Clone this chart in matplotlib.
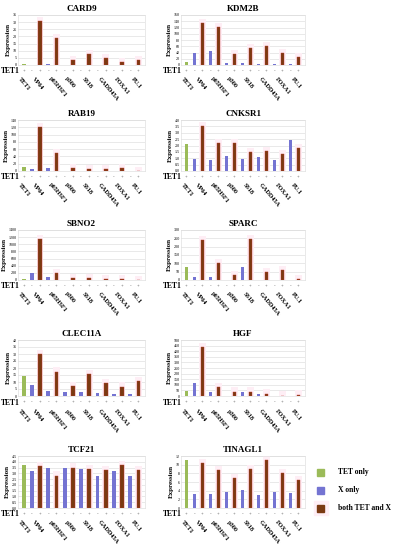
import numpy as np
import matplotlib
matplotlib.use("Agg")
import matplotlib.pyplot as plt
import matplotlib.transforms as mtransforms
from matplotlib.patches import Rectangle

plt.rcParams['font.family'] = ['Liberation Serif', 'DejaVu Serif']

factors = ['VP64', 'p65HSF1', 'p300', 'SS18', 'GADD45A', 'FOXA1', 'PU.1']

genes = ['CARD9', 'KDM2B', 'RAB19', 'CNKSR1', 'SBNO2',
         'SPARC', 'CLEC11A', 'HGF', 'TCF21', 'TINAGL1']

# TET only value, X only values, both TET and X values (per factor)
card9_tet = 1.0
card9_x = [0.3, 0.4, 0.3, 0.3, 0.3, 0.3, 0.3]
card9_both = [30.8, 19, 3.5, 7.7, 4.7, 2.3, 3.5]

kdm2b_tet = 10
kdm2b_x = [40, 45, 5, 5, 3, 4, 4]
kdm2b_both = [133, 122, 34, 54, 61, 37, 27]

rab19_tet = 12
rab19_x = [6, 8, 1, 1, 1, 1, 1]
rab19_both = [120, 50, 8, 5, 6, 7, 1]

cnksr1_tet = 2.1
cnksr1_x = [0.93, 0.83, 1.2, 0.96, 1.07, 0.88, 2.4]
cnksr1_both = [3.5, 2.2, 2.2, 1.47, 1.57, 1.36, 1.8]

sbno2_tet = 20
sbno2_x = [205, 75, 5, 5, 5, 5, 3]
sbno2_both = [1150, 190, 50, 55, 35, 20, 10]

sparc_tet = 80
sparc_x = [20, 16, 2, 80, 1, 1, 1]
sparc_both = [240, 100, 28, 246, 46, 60, 8]

clec11a_tet = 14.5
clec11a_x = [8, 3.7, 3, 3, 2.3, 1.6, 1.6]
clec11a_both = [30, 17.5, 7, 15.7, 9.2, 6.5, 10.4]

hgf_tet = 48
hgf_x = [120, 32, 3, 40, 15, 2, 2]
hgf_both = [435, 80, 38, 38, 22, 3, 10]

tcf21_tet = 3.72
tcf21_x = [3.2, 3.5, 3.44, 3.35, 2.78, 3.24, 2.8]
tcf21_both = [3.64, 2.8, 3.5, 3.35, 3.3, 3.72, 3.3]

tinagl1_tet = 11.1
tinagl1_x = [3.3, 3.3, 3.6, 4.2, 2.9, 3.8, 3.4]
tinagl1_both = [10.3, 8.8, 6.9, 9.0, 11.1, 8.1, 6.5]

# y axis max and step
y_max = [35, 160, 140, 4.0, 1400, 300, 40, 500, 4.5, 12]
y_step = [5, 20, 20, 0.5, 200, 50, 5, 50, 0.5, 2]

tet_vals = [card9_tet, kdm2b_tet, rab19_tet, cnksr1_tet, sbno2_tet,
            sparc_tet, clec11a_tet, hgf_tet, tcf21_tet, tinagl1_tet]
x_vals = [card9_x, kdm2b_x, rab19_x, cnksr1_x, sbno2_x,
          sparc_x, clec11a_x, hgf_x, tcf21_x, tinagl1_x]
both_vals = [card9_both, kdm2b_both, rab19_both, cnksr1_both, sbno2_both,
             sparc_both, clec11a_both, hgf_both, tcf21_both, tinagl1_both]

GREEN = '#9bbb59'
BLUE = '#7474d2'
BROWN = '#7a3a12'
PINK = '#feeef5'

W, H = 394, 550
fig = plt.figure(figsize=(W / 100, H / 100), dpi=100)

# pixel boxes: (left, right) per column, (top, bottom) per row
cols = [(18, 145), (181, 305)]
tet_lab_x = [1, 163]
rows = [(15, 65), (120, 171), (230, 280), (340, 396), (456, 508)]

for k, g in enumerate(genes):
    r, c = divmod(k, 2)
    l, rr = cols[c]
    t, b = rows[r]
    ax = fig.add_axes([l / W, 1 - b / H, (rr - l) / W, (b - t) / H])

    xg = [0]
    xb = [1 + 2 * i for i in range(len(factors))]
    xr = [2 + 2 * i for i in range(len(factors))]
    pad = y_max[k] * 0.08
    ax.bar(xr, [v + pad for v in both_vals[k]], width=0.8, color=PINK, zorder=1)
    ax.bar(xg, [tet_vals[k]], width=0.45, color=GREEN, zorder=3)
    ax.bar(xb, x_vals[k], width=0.45, color=BLUE, zorder=3)
    ax.bar(xr, both_vals[k], width=0.45, color=BROWN, edgecolor='#c0392b',
           linewidth=0.3, zorder=3)

    ax.set_xlim(-0.7, 14.8)
    ax.set_ylim(0, y_max[k])
    ticks = np.arange(0, y_max[k] + y_step[k] / 2, y_step[k])
    ax.set_yticks(ticks)
    if y_step[k] < 1:
        ax.set_yticklabels(['%.1f' % v for v in ticks])
    else:
        ax.set_yticklabels(['%d' % v for v in ticks])
    ax.tick_params(axis='y', labelsize=3, length=0, pad=1)
    ax.set_xticks([])
    ax.grid(axis='y', color='#d9d9d9', linewidth=0.4, zorder=0)
    ax.set_axisbelow(True)
    for s in ax.spines.values():
        s.set_color('#d9d9d9')
        s.set_linewidth(0.4)
    ax.set_ylabel('Expression', fontsize=5, fontweight='bold', labelpad=1)
    ax.set_title(g, fontsize=6.5, fontweight='bold', pad=3)

    trans = mtransforms.blended_transform_factory(ax.transData, ax.transAxes)
    ax.text((tet_lab_x[c] - l) / (rr - l), -0.12, 'TET1', transform=ax.transAxes,
            ha='left', va='center', fontsize=5.5, fontweight='bold')
    signs = ['+'] + ['-', '+'] * len(factors)
    for xi, sgn in enumerate(signs):
        ax.text(xi, -0.12, sgn, transform=trans, ha='center', va='center',
                fontsize=3.5, color='#444444')
    labels = ['TET1'] + factors
    lab_x = [0] + [x - 0.3 for x in xr]
    for xi, lab in zip(lab_x, labels):
        ax.text(xi - 0.3, -0.22, lab, transform=trans, ha='left', va='top',
                rotation=-50, rotation_mode='anchor', fontsize=4.5,
                fontweight='bold')

# legend
leg_items = [('TET only', GREEN), ('X only', BLUE), ('both TET and X', BROWN)]
lax = fig.add_axes([0, 0, 1, 1])
lax.set_xlim(0, W)
lax.set_ylim(H, 0)
lax.axis('off')
for i, (name, col) in enumerate(leg_items):
    y = 472 + 18 * i
    if i == 2:
        lax.add_patch(Rectangle((314, y - 7), 14, 14, color=PINK))
    lax.add_patch(Rectangle((317, y - 3.5), 7, 7, color=col))
    lax.text(338, y, name, fontsize=5.5, fontweight='bold', va='center')

fig.savefig('out.png', dpi=100)
